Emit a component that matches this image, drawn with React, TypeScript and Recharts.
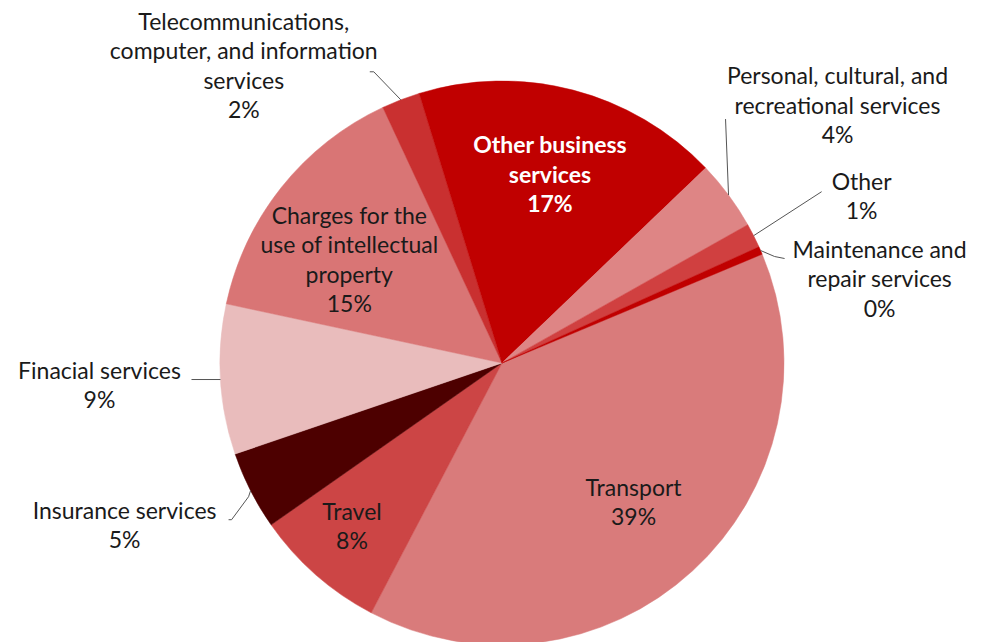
import React from "react";
import { PieChart, Pie, Cell } from "recharts";

// clockwise from the right edge, as drawn
const categories = [
  "Transport",
  "Travel",
  "Insurance services",
  "Finacial services",
  "Charges for the use of intellectual property",
  "Telecommunications, computer, and information services",
  "Other business services",
  "Personal, cultural, and recreational services",
  "Other",
  "Maintenance and repair services",
];
const shares = [39.0, 7.6, 4.5, 8.6, 14.7, 2.2, 17.6, 4.0, 1.4, 0.45];
const percentLabels = ["39%", "8%", "5%", "9%", "15%", "2%", "17%", "4%", "1%", "0%"];
const labelLines = [
  ["Transport"],
  ["Travel"],
  ["Insurance services"],
  ["Finacial services"],
  ["Charges for the", "use of intellectual", "property"],
  ["Telecommunications,", "computer, and information", "services"],
  ["Other business", "services"],
  ["Personal, cultural, and", "recreational services"],
  ["Other"],
  ["Maintenance and", "repair services"],
];

const COLORS = [
  "#D97B7B",
  "#CC4545",
  "#4D0000",
  "#E9BCBC",
  "#D97575",
  "#C93030",
  "#C00000",
  "#DE8585",
  "#D04040",
  "#C00000",
];

// label placement: inside (radius fraction) or outside (offsets from the slice's outer edge)
type Place =
  | { kind: "in"; r: number; dx?: number; dy?: number; color?: string }
  | { kind: "out"; tx: number; ty: number; line: [number, number][] };

const PLACES: Place[] = [
  { kind: "in", r: 0.69 },
  { kind: "in", r: 0.79, dx: -3 },
  { kind: "out", tx: -126, ty: 24, line: [[-2, 6], [-19, 29], [-22, 29]] },
  { kind: "out", tx: -121, ty: -5, line: [[-29, 0]] },
  { kind: "in", r: 0.62, dx: -16, dy: 10 },
  { kind: "out", tx: -157, ty: -74, line: [[-27, -28], [-31, -28]] },
  { kind: "in", r: 0.675, color: "#ffffff" },
  { kind: "out", tx: 109, ty: -115, line: [[-3, -76]] },
  { kind: "out", tx: 108, ty: -50, line: [[68, -44]] },
  { kind: "out", tx: 119, ty: 3, line: [[14, 6], [24, 8]] },
];

const data = categories.map((name, i) => ({ name, value: shares[i] }));

const RAD = Math.PI / 180;
const LINE_H = 29.5;

function renderLabel(props: any) {
  const { cx, cy, midAngle, outerRadius, index } = props;
  const place = PLACES[index];
  const lines = [...labelLines[index], percentLabels[index]];
  const cos = Math.cos(-midAngle * RAD);
  const sin = Math.sin(-midAngle * RAD);
  let x: number;
  let y: number;
  let leader: React.ReactNode = null;
  let fill = "#1a1a1a";
  if (place.kind === "in") {
    x = cx + outerRadius * place.r * cos + (place.dx ?? 0);
    y = cy + outerRadius * place.r * sin + (place.dy ?? 0);
    y -= ((lines.length - 1) * LINE_H) / 2;
    if (place.color) fill = place.color;
  } else {
    const ex = cx + outerRadius * cos;
    const ey = cy + outerRadius * sin;
    const pts = [[ex, ey], ...place.line.map(([a, b]) => [ex + a, ey + b])];
    leader = (
      <polyline
        points={pts.map((p) => p.join(",")).join(" ")}
        fill="none"
        stroke="#555"
        strokeWidth={1}
      />
    );
    x = ex + place.tx;
    y = ey + place.ty;
  }
  y -= 5;
  return (
    <g key={`lbl-${index}`}>
      {leader}
      <text
        x={x}
        y={y}
        fill={fill}
        textAnchor="middle"
        dominantBaseline="central"
        fontFamily="Lato, 'Open Sans', sans-serif"
        fontSize={23}
        fontWeight={place.kind === "in" && place.color ? 700 : 400}
      >
        {lines.map((t, k) => (
          <tspan key={k} x={x} dy={k === 0 ? 0 : LINE_H}>
            {t}
          </tspan>
        ))}
      </text>
    </g>
  );
}

export default function App() {
  return (
    <div style={{ position: "absolute", left: 0, top: 0, width: 988, height: 642, background: "#fff" }}>
      <PieChart width={988} height={642}>
        <Pie
          data={data}
          dataKey="value"
          nameKey="name"
          cx={497}
          cy={358}
          outerRadius={282}
          startAngle={22.7}
          endAngle={22.7 - 360}
          label={renderLabel}
          labelLine={false}
          isAnimationActive={false}
        >
          {data.map((d, i) => (
            <Cell key={d.name} fill={COLORS[i]} stroke={COLORS[i]} strokeWidth={0.5} />
          ))}
        </Pie>
      </PieChart>
    </div>
  );
}
